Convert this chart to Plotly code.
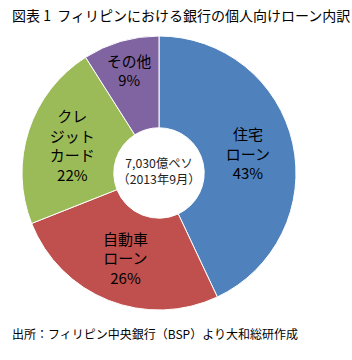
import plotly.graph_objects as go

categories = ["住宅<br>ローン", "自動車<br>ローン", "クレ<br>ジット<br>カード", "その他"]
values = [43, 26, 22, 9]
colors = ["#4F81BD", "#C0504D", "#9BBB59", "#8064A2"]

title = "図表 1  フィリピンにおける銀行の個人向けローン内訳"
source = "出所：フィリピン中央銀行（BSP）より大和総研作成"
center_text = "7,030億ペソ<br>（2013年9月）"

W, H = 352, 360
FONT = "Noto Sans CJK JP"

fig = go.Figure(go.Pie(
    labels=categories,
    values=values,
    marker=dict(colors=colors, line=dict(color="white", width=1)),
    sort=False,
    direction="clockwise",
    rotation=0,
    hole=0.33,
    texttemplate="%{label}<br>%{percent:.0%}",
    textposition="inside",
    insidetextorientation="horizontal",
    textfont=dict(family=FONT, size=15, color="black"),
    title=dict(text=center_text, position="middle center",
               font=dict(family=FONT, size=12.5, color="#222222")),
    domain=dict(x=[20 / W, 298 / W], y=[1 - 310 / H, 1 - 36 / H]),
    showlegend=False,
    hoverinfo="label+percent",
))

fig.update_layout(
    width=W, height=H,
    margin=dict(l=0, r=0, t=0, b=0),
    paper_bgcolor="white",
    plot_bgcolor="white",
    font=dict(family=FONT, color="black"),
    annotations=[
        dict(text=title, x=10 / W, y=1 - 15 / H, xref="paper", yref="paper",
             xanchor="left", yanchor="middle", showarrow=False,
             font=dict(family=FONT, size=14, color="black")),
        dict(text=source, x=10 / W, y=1 - 333 / H, xref="paper", yref="paper",
             xanchor="left", yanchor="middle", showarrow=False,
             font=dict(family=FONT, size=12, color="black")),
    ],
)

fig.write_html("out.html")
